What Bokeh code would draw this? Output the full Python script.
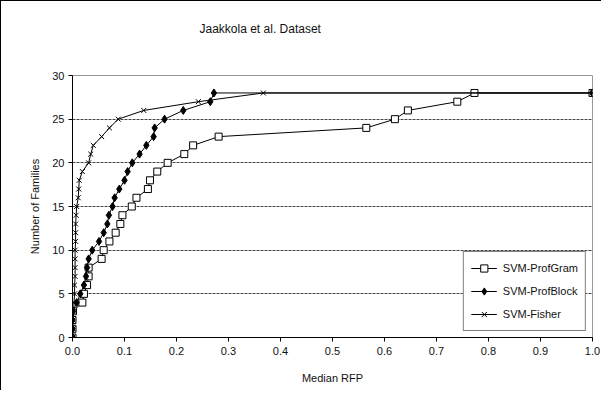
from bokeh.plotting import figure
from bokeh.models import (Range1d, FixedTicker, NumeralTickFormatter, Legend, LegendItem)
from bokeh.embed import file_html
from bokeh.resources import INLINE

families = list(range(0, 29)) + [28]

profgram_rfp = [0.0, 0.0, 0.0, 0.001, 0.019, 0.022, 0.028, 0.031, 0.031, 0.056,
                0.060, 0.071, 0.083, 0.092, 0.096, 0.114, 0.123, 0.145, 0.149, 0.163,
                0.183, 0.215, 0.232, 0.281, 0.565, 0.620, 0.645, 0.740, 0.773, 1.0]
profblock_rfp = [0.0, 0.0, 0.0, 0.001, 0.008, 0.015, 0.022, 0.026, 0.028, 0.031,
                 0.038, 0.051, 0.060, 0.067, 0.070, 0.077, 0.081, 0.090, 0.100, 0.106,
                 0.115, 0.129, 0.142, 0.156, 0.158, 0.177, 0.213, 0.265, 0.272, 1.0]
fisher_rfp = [0.0, 0.001, 0.001, 0.002, 0.003, 0.004, 0.004, 0.005, 0.005, 0.005,
              0.005, 0.006, 0.006, 0.006, 0.007, 0.008, 0.011, 0.012, 0.013, 0.019,
              0.031, 0.035, 0.040, 0.056, 0.071, 0.088, 0.137, 0.242, 0.367, 1.0]

x_ticks = [0.0, 0.1, 0.2, 0.3, 0.4, 0.5, 0.6, 0.7, 0.8, 0.9, 1.0]
y_ticks = [0, 5, 10, 15, 20, 25, 30]

title_text = "Jaakkola et al. Dataset"
x_title = "Median RFP"
y_title = "Number of Families"

FONT = "Liberation Sans"

p = figure(width=601, height=390, output_backend="svg", toolbar_location=None,
           x_range=Range1d(0, 1.0), y_range=Range1d(0, 30),
           min_border_left=71, min_border_right=10, min_border_top=74, min_border_bottom=54)
p.styles = {"border-left": "1px solid #000", "border-top": "1px solid #000"}

p.title.text = title_text + "\n \n "
p.title.align = "left"
p.title.offset = 127
p.title.standoff = 24
p.title.text_font = FONT
p.title.text_font_size = "12px"
p.title.text_font_style = "normal"
p.title.text_color = "#111111"

p.background_fill_color = "white"
p.border_fill_color = "white"
p.outline_line_color = "#999999"
p.outline_line_width = 1

p.xgrid.visible = False
p.ygrid.ticker = FixedTicker(ticks=y_ticks)
p.ygrid.grid_line_color = "#444444"
p.ygrid.grid_line_dash = "3 1"
p.ygrid.grid_line_width = 1

for ax in (p.xaxis[0], p.yaxis[0]):
    ax.axis_line_color = "black"
    ax.major_tick_line_color = "black"
    ax.minor_tick_line_color = None
    ax.major_tick_in = 0
    ax.major_tick_out = 4
    ax.major_label_text_font = FONT
    ax.major_label_text_font_size = "11px"
    ax.major_label_text_color = "#111111"
    ax.axis_label_text_font = FONT
    ax.axis_label_text_font_size = "11px"
    ax.axis_label_text_font_style = "normal"
    ax.axis_label_text_color = "#111111"

p.xaxis.ticker = FixedTicker(ticks=x_ticks)
p.xaxis.formatter = NumeralTickFormatter(format="0.0")
p.xaxis.major_label_standoff = 5
p.xaxis.axis_label = x_title
p.xaxis.axis_label_standoff = 14

p.yaxis.ticker = FixedTicker(ticks=y_ticks)
p.yaxis.major_label_standoff = 4
p.yaxis.axis_label = y_title
p.yaxis.axis_label_standoff = 8

l1 = p.line(profgram_rfp, families, line_color="black", line_width=1)
m1 = p.scatter(profgram_rfp, families, marker="square", size=7, fill_color="white",
               line_color="black", line_width=1)
l2 = p.line(profblock_rfp, families, line_color="black", line_width=1)
m2 = p.scatter(profblock_rfp, families, marker="diamond", size=8, fill_color="black",
               line_color="black")
l3 = p.line(fisher_rfp, families, line_color="black", line_width=1)
m3 = p.scatter(fisher_rfp, families, marker="x", size=7, line_color="black", line_width=1)

legend = Legend(items=[
    LegendItem(label="SVM-ProfGram", renderers=[l1, m1]),
    LegendItem(label="SVM-ProfBlock", renderers=[l2, m2]),
    LegendItem(label="SVM-Fisher", renderers=[l3, m3]),
], location="bottom_right")
legend.margin = 6
legend.padding = 7
legend.spacing = 5
legend.label_height = 18
legend.glyph_height = 18
legend.glyph_width = 26
legend.label_standoff = 6
legend.label_text_font = FONT
legend.label_text_font_size = "11px"
legend.label_text_color = "#111111"
legend.border_line_color = "black"
legend.border_line_width = 1
legend.background_fill_color = "white"
legend.background_fill_alpha = 1.0
p.add_layout(legend, "center")

open("out.html", "w").write(file_html(p, INLINE))
